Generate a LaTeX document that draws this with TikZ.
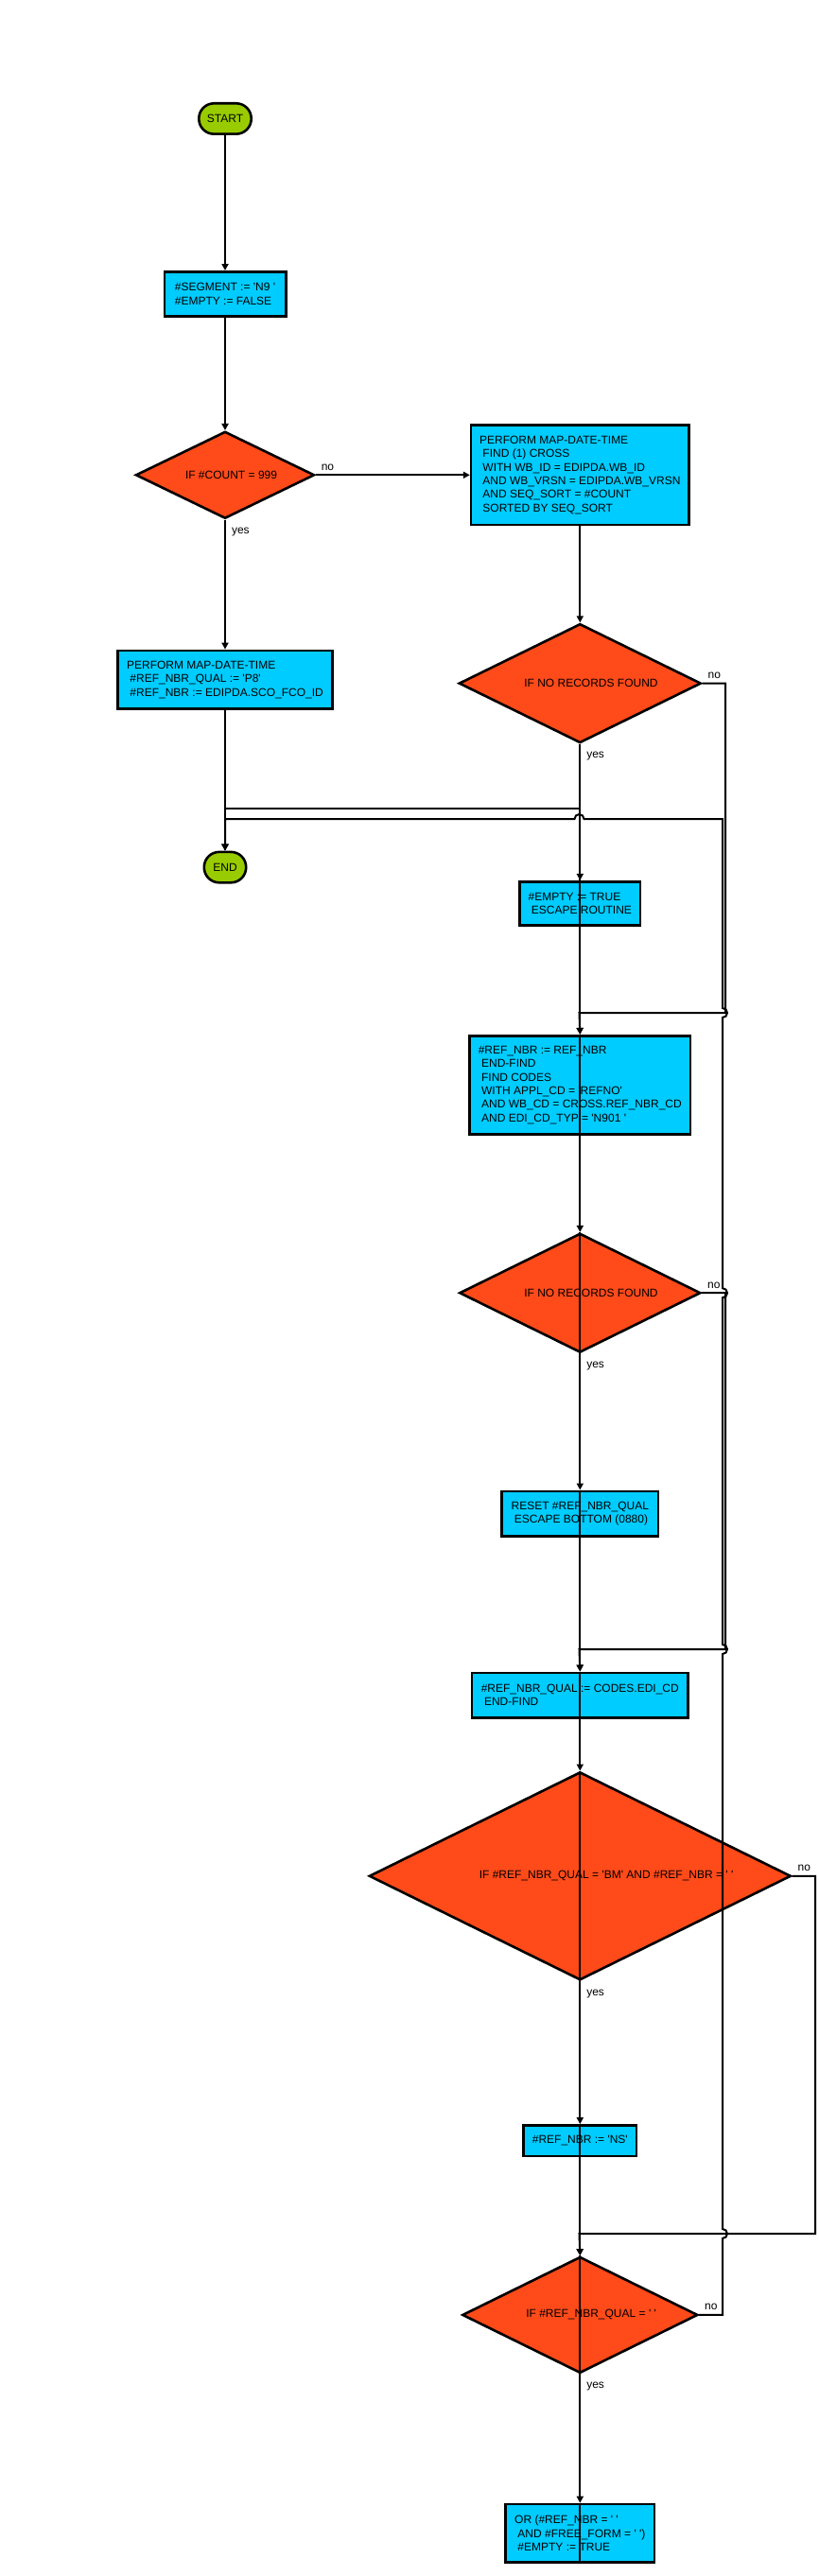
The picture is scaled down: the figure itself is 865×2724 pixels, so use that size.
\documentclass[tikz,border=0pt]{standalone}
\usepackage{fontspec}
\setmainfont{Liberation Sans}[Ligatures=TeXOff]
\usetikzlibrary{arrows.meta, shapes.geometric, calc, positioning}
\definecolor{procBlue}{HTML}{00CCFF}
\definecolor{decRed}{HTML}{FF4A1A}
\definecolor{termGreen}{HTML}{99CC00}
\newcommand{\flowFont}{\fontsize{12}{14.4}\selectfont}
\newcommand{\indt}{\hspace*{3.3pt}}
\newcommand{\dtext}[2]{\makebox[0pt][l]{\hspace*{#1}#2}}
\tikzstyle{termNode} = [rectangle, rounded corners=16pt, draw=black, line width=2.6pt, fill=termGreen, minimum height=32.4pt, inner sep=0pt, font=\flowFont]
\tikzstyle{procBox} = [rectangle, draw=black, line width=2.6pt, fill=procBlue, align=left, inner xsep=4pt, inner ysep=3pt, font=\flowFont]
\tikzstyle{decision} = [diamond, draw=black, line width=2.6pt, fill=decRed, inner sep=0pt, font=\flowFont]
\tikzstyle{arrowFlow} = [line width=2pt, -{Triangle[length=7pt, width=7pt]}]
\tikzstyle{lineFlow} = [line width=2pt]
\tikzstyle{noLabel} = [anchor=base west, inner sep=0pt, xshift=5pt, yshift=5pt, font=\flowFont]
\tikzstyle{yesLabel} = [anchor=base west, inner sep=0pt, xshift=6pt, yshift=-15pt, font=\flowFont]

\begin{document}
\begin{tikzpicture}[x=1pt, y=1pt]
    \useasboundingbox (0,0) rectangle (865,-2724);

    % left column
    \node (start) [termNode, minimum width=55.4pt] at (238,-125.5) {START};
    \node (box1) [procBox, minimum width=128.4pt, minimum height=47.4pt, below=143pt of start] {\#SEGMENT := 'N9 '\\\#EMPTY := FALSE};
    \node (dg1) [decision, minimum width=189pt, minimum height=92pt, below=119pt of box1] {\dtext{-42pt}{IF \#COUNT = 999}};
    \node (box3) [procBox, minimum width=227.4pt, minimum height=61.4pt, below=137pt of dg1] {PERFORM MAP-DATE-TIME\\\indt\#REF\_NBR\_QUAL := 'P8'\\\indt\#REF\_NBR := EDIPDA.SCO\_FCO\_ID};
    \node (end) [termNode, minimum width=44.4pt, below=149pt of box3] {END};

    % right column
    \node (box2) [procBox, minimum width=230.4pt, minimum height=105.4pt, right=163pt of dg1] {PERFORM MAP-DATE-TIME\\\indt FIND (1) CROSS\\\indt WITH WB\_ID = EDIPDA.WB\_ID\\\indt AND WB\_VRSN = EDIPDA.WB\_VRSN\\\indt AND SEQ\_SORT = \#COUNT\\\indt SORTED BY SEQ\_SORT};
    \node (dg2) [decision, minimum width=256pt, minimum height=126pt, below=102pt of box2] {\dtext{-59pt}{IF NO RECORDS FOUND}};
    \node (box4) [procBox, minimum width=127.4pt, minimum height=46.4pt, below=144pt of dg2] {\#EMPTY := TRUE\\\indt ESCAPE ROUTINE};
    \node (box5) [procBox, minimum width=233.4pt, minimum height=104.4pt, below=114pt of box4] {\#REF\_NBR := REF\_NBR\\\indt END-FIND\\\indt FIND CODES\\\indt WITH APPL\_CD = 'REFNO'\\\indt AND WB\_CD = CROSS.REF\_NBR\_CD\\\indt AND EDI\_CD\_TYP = 'N901 '};
    \node (dg3) [decision, minimum width=255pt, minimum height=126pt, below=102pt of box5] {\dtext{-59pt}{IF NO RECORDS FOUND}};
    \node (box6) [procBox, minimum width=165.4pt, minimum height=47.4pt, below=144pt of dg3] {RESET \#REF\_NBR\_QUAL\\\indt ESCAPE BOTTOM (0880)};
    \node (box7) [procBox, minimum width=228.4pt, minimum height=47.4pt, below=142pt of box6] {\#REF\_NBR\_QUAL := CODES.EDI\_CD\\\indt END-FIND};
    \node (dg4) [decision, minimum width=446pt, minimum height=220pt, below=55pt of box7] {\dtext{-106.5pt}{IF \#REF\_NBR\_QUAL = 'BM' AND \#REF\_NBR = ' '}};
    \node (box8) [procBox, minimum width=119.4pt, minimum height=32.4pt, below=151pt of dg4] {\#REF\_NBR := 'NS'};
    \node (dg5) [decision, minimum width=249pt, minimum height=123pt, below=104pt of box8] {\dtext{-57pt}{IF \#REF\_NBR\_QUAL = ' '}};
    \node (box9) [procBox, minimum width=157.4pt, minimum height=61.4pt, below=136pt of dg5] {OR (\#REF\_NBR = ' '\\\indt AND \#FREE\_FORM = ' ')\\\indt\#EMPTY := TRUE};

    % bends and joins
    \coordinate (escL) at (238,-855);
    \coordinate (noL) at (238,-866);
    \coordinate (j1) at (612.5,-1071);
    \coordinate (j2) at (612.5,-1744);
    \coordinate (j3) at (612.5,-2362);
    \coordinate (busA) at (767,0);
    \coordinate (busB) at (764,0);
    \coordinate (busC) at (862,0);

    \draw [arrowFlow] (start) -- (box1);
    \draw [arrowFlow] (box1) -- (dg1);
    \draw [arrowFlow] (dg1) -- node[noLabel, pos=0] {no} (box2);
    \draw [arrowFlow] (dg1) -- node[yesLabel, pos=0] {yes} (box3);
    \draw [arrowFlow] (box3) -- (end);
    \draw [arrowFlow] (box2) -- (dg2);
    \draw [arrowFlow] (dg2) -- node[yesLabel, pos=0] {yes} (box4);
    \draw [arrowFlow] (box4.north) |- (escL) -- (end.north);

    % main line runs over the lower blocks
    \foreach \a/\b/\t in {box4/box5/, box5/dg3/, dg3/box6/yes, box6/box7/, box7/dg4/, dg4/box8/yes, box8/dg5/, dg5/box9/yes} {
        \draw [arrowFlow] (\a.north) -- (\a.south) node[yesLabel] {\t} -- (\b.north);
    }
    \draw [lineFlow] (box9.north) -- (box9.south);

    % no branches
    \draw [arrowFlow] (dg2.east) node[noLabel] {no} -| (busA |- j1) -- (j1) -- (box5.north);
    \draw [arrowFlow] (dg3.east) node[noLabel] {no} -| (busA |- j2) -- (j2) -- (box7.north);
    \draw [arrowFlow] (dg4.east) node[noLabel] {no} -| (busC |- j3) -- (j3) -- (dg5.north);
    \draw [arrowFlow] (dg5.east) node[noLabel] {no} -- (busB |- dg5.east)
        -- ($(busB |- j3)+(0,-5)$) arc[start angle=-90, end angle=90, radius=5]
        -- ($(busB |- j2)+(0,-5)$) arc[start angle=-90, end angle=90, radius=5]
        -- ($(busB |- dg3.east)+(0,-5)$) arc[start angle=-90, end angle=90, radius=5]
        -- ($(busB |- j1)+(0,-5)$) arc[start angle=-90, end angle=90, radius=5]
        -- (busB |- noL)
        -- ($(j1 |- noL)+(5,0)$) arc[start angle=0, end angle=180, radius=5]
        -- (noL) -- (end.north);

\end{tikzpicture}
\end{document}
